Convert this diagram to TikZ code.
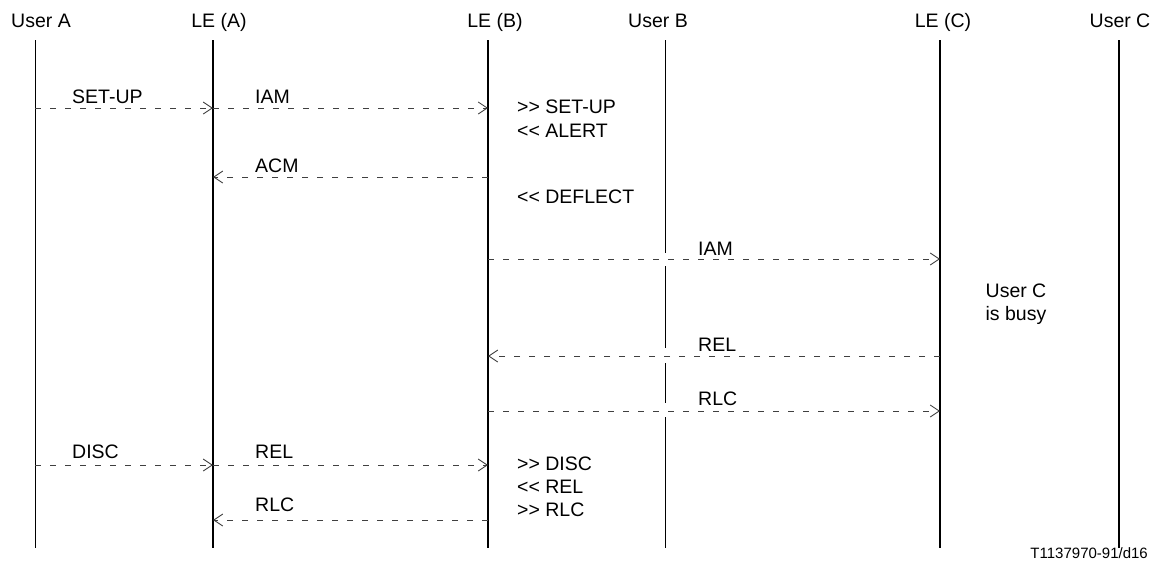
\documentclass[tikz,border=0pt]{standalone}
\usepackage{fontspec}
\setmainfont{Liberation Sans}[Ligatures=TeXOff]
\usetikzlibrary{arrows.meta}

\begin{document}
\begin{tikzpicture}[x=1pt, y=-1pt,
    every node/.style={font=\fontsize{19.5}{23}\selectfont, inner sep=0pt},
    head/.style={anchor=base},
    lbl/.style={anchor=base west},
    thinlife/.style={line width=1pt},
    thicklife/.style={line width=2.2pt},
    msg/.style={line width=0.9pt, black!75, dash pattern=on 6pt off 9pt,
                -{Straight Barb[length=9pt, width=12pt, line width=0.9pt]}}]
    \useasboundingbox (0,0) rectangle (1161,574);

    % Lifeline heads
    \node[head] (userA) at (41,27) {User A};
    \node[head] (leA) at (219,27) {LE (A)};
    \node[head] (leB) at (495,27) {LE (B)};
    \node[head] (userB) at (658,27) {User B};
    \node[head] (leC) at (943,27) {LE (C)};
    \node[head] (userC) at (1120,27) {User C};

    % Lifelines
    \coordinate (uA) at (35,40);
    \coordinate (lA) at (213,40);
    \coordinate (lB) at (488,40);
    \coordinate (uB) at (665,40);
    \coordinate (lC) at (940,40);
    \coordinate (uC) at (1119,40);
    \coordinate (bot) at (0,548);
    \draw[thinlife] (uA) -- (uA |- bot);
    \draw[thicklife] (lA) -- (lA |- bot);
    \draw[thicklife] (lB) -- (lB |- bot);
    \draw[thicklife] (lC) -- (lC |- bot);
    \draw[thicklife] (uC) -- (uC |- bot);
    % User B line is broken where messages cross it
    \draw[thinlife] (uB) -- (665,253);
    \draw[thinlife] (665,266) -- (665,348);
    \draw[thinlife] (665,363) -- (665,403);
    \draw[thinlife] (665,417) -- (uB |- bot);

    % Message rows
    \coordinate (m1) at (0,108);
    \coordinate (m2) at (0,177);
    \coordinate (m3) at (0,259);
    \coordinate (m4) at (0,356);
    \coordinate (m5) at (0,411);
    \coordinate (m6) at (0,465);
    \coordinate (m7) at (0,520);

    % Set-up
    \draw[msg] (uA |- m1) -- (lA |- m1);
    \node[lbl] (setupA) at (72,103) {SET-UP};
    \draw[msg] (lA |- m1) -- (lB |- m1);
    \node[lbl] (iamA) at (255,103) {IAM};
    \node[lbl] (setupB) at (517,113) {>> SET-UP};
    \node[lbl] (alertB) at (517,137) {<< ALERT};

    \draw[msg] (lB |- m2) -- (lA |- m2);
    \node[lbl] (acmA) at (255,172) {ACM};
    \node[lbl] (deflectB) at (517,203) {<< DEFLECT};

    % Deflection to User C
    \draw[msg] (lB |- m3) -- (lC |- m3);
    \node[lbl] (iamC) at (698,255) {IAM};
    \node[align=center] (busyC) at (1016,304) {User C\\is busy};
    \draw[msg] (lC |- m4) -- (lB |- m4);
    \node[lbl] (relC) at (698,351) {REL};
    \draw[msg] (lB |- m5) -- (lC |- m5);
    \node[lbl] (rlcC) at (698,405) {RLC};

    % Clearing
    \draw[msg] (uA |- m6) -- (lA |- m6);
    \node[lbl] (discA) at (72,458) {DISC};
    \draw[msg] (lA |- m6) -- (lB |- m6);
    \node[lbl] (relA) at (255,458) {REL};
    \node[lbl] (discB) at (517,470) {>> DISC};
    \node[lbl] (relB) at (517,493) {<< REL};
    \node[lbl] (rlcB) at (517,516) {>> RLC};
    \draw[msg] (lB |- m7) -- (lA |- m7);
    \node[lbl] (rlcA) at (255,511) {RLC};

    % Figure reference
    \node[anchor=base east, font=\fontsize{15}{18}\selectfont] (figref) at (1148,558) {T1137970-91/d16};
\end{tikzpicture}
\end{document}
